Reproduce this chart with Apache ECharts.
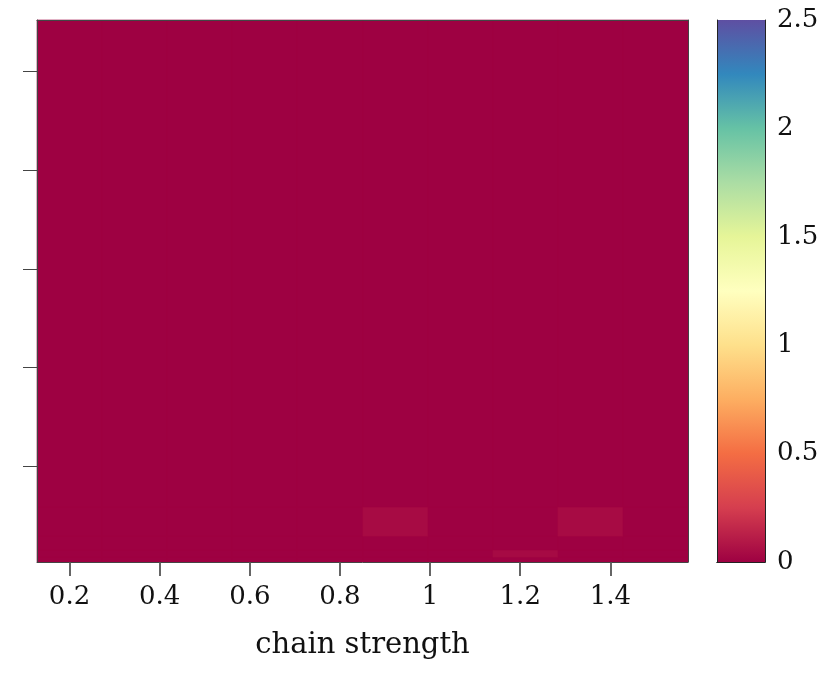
<!DOCTYPE html>
<html>
<head>
<meta charset="utf-8">
<script src="https://cdn.jsdelivr.net/npm/echarts@6/dist/echarts.min.js"></script>
<style>html,body{margin:0;padding:0;background:#fff;}#c{width:830px;height:674px;}</style>
</head>
<body>
<div id="c"></div>
<script>
// chain strength column centres
const chainStrength = [0.2, 0.344, 0.489, 0.633, 0.778, 0.922, 1.067, 1.211, 1.356, 1.5];
const colHalfWidth = 0.0722;
// row edges (unlabelled y axis)
const rowEdges = [0.03, 0.081, 0.152, 0.293, 0.587, 5.52];
// values[row][col]
const values = [
  [0, 0, 0, 0, 0, 0, 0, 0, 0, 0],
  [0, 0, 0, 0, 0, 0, 0, 0.035, 0, 0],
  [0, 0, 0, 0, 0, 0, 0, 0, 0, 0],
  [0, 0, 0, 0, 0, 0.04, 0, 0, 0.04, 0],
  [0, 0, 0, 0, 0, 0, 0, 0, 0, 0]
];
const xTicks = [0.2, 0.4, 0.6, 0.8, 1, 1.2, 1.4];
const yTicks = [1, 2, 3, 4, 5];
const cbTicks = [0, 0.5, 1, 1.5, 2, 2.5];
const spectral = ['#9e0142','#d53e4f','#f46d43','#fdae61','#fee08b','#ffffbf','#e6f598','#abdda4','#66c2a5','#3288bd','#5e4fa2'];

// column edges: midpoints between neighbouring centres
const n = chainStrength.length;
const colEdges = [chainStrength[0] - colHalfWidth];
for (let i = 0; i < n - 1; i++) colEdges.push((chainStrength[i] + chainStrength[i + 1]) / 2);
colEdges.push(chainStrength[n - 1] + colHalfWidth);

const cells = [];
values.forEach((row, r) => row.forEach((v, c) => {
  cells.push([colEdges[c], colEdges[c + 1], rowEdges[r], rowEdges[r + 1], v]);
}));

const font = 'DejaVu Serif';
const xMin = colEdges[0], xMax = colEdges[n];
const chart = echarts.init(document.getElementById('c'));
const plain = {axisTick: {show: false}, axisLabel: {show: false}, splitLine: {show: false}};
chart.setOption({
  animation: false,
  visualMap: {show: false, seriesIndex: 0, dimension: 4, min: 0, max: 2.5, inRange: {color: spectral}},
  grid: [
    {left: 37, top: 20, width: 651, height: 542},
    {left: 717, top: 20, width: 48, height: 542}
  ],
  xAxis: [
    {gridIndex: 0, type: 'value', min: xMin, max: xMax, z: 10,
     axisLine: {show: true, onZero: false, lineStyle: {color: '#444', width: 1}},
     axisTick: {show: false},
     axisLabel: {customValues: xTicks, fontFamily: font, fontSize: 26, color: '#111', margin: 22},
     splitLine: {show: false},
     name: 'chain strength', nameLocation: 'middle', nameGap: 69,
     nameTextStyle: {fontFamily: font, fontSize: 29, color: '#111'}},
    Object.assign({gridIndex: 0, type: 'value', position: 'top', min: xMin, max: xMax, z: 10,
     axisLine: {show: true, lineStyle: {color: '#444'}}}, plain),
    Object.assign({gridIndex: 1, type: 'value', min: 0, max: 1, z: 10,
     axisLine: {show: true, onZero: false, lineStyle: {color: '#222'}}}, plain),
    Object.assign({gridIndex: 1, type: 'value', position: 'top', min: 0, max: 1, z: 10,
     axisLine: {show: true, lineStyle: {color: '#222'}}}, plain),
    {gridIndex: 0, type: 'value', position: 'bottom', offset: 0, min: xMin, max: xMax, z: 11,
     axisLine: {show: false, onZero: false},
     axisTick: {show: true, customValues: xTicks, length: 14, lineStyle: {color: '#555', width: 1.8}},
     axisLabel: {show: false}, splitLine: {show: false}}
  ],
  yAxis: [
    {gridIndex: 0, type: 'value', min: 0.03, max: 5.52, z: 10,
     axisLine: {show: true, onZero: false, lineStyle: {color: '#444'}},
     axisTick: {show: true, customValues: yTicks, length: 14, lineStyle: {color: '#444'}},
     axisLabel: {show: false}, splitLine: {show: false}},
    Object.assign({gridIndex: 0, type: 'value', position: 'right', min: 0.03, max: 5.52, z: 10,
     axisLine: {show: true, onZero: false, lineStyle: {color: '#444'}}}, plain),
    {gridIndex: 1, type: 'value', min: 0, max: 2.5, position: 'right', z: 10,
     axisLine: {show: true, onZero: false, lineStyle: {color: '#222'}},
     axisTick: {show: false},
     axisLabel: {customValues: cbTicks, fontFamily: font, fontSize: 26, color: '#111', margin: 12},
     splitLine: {show: false}},
    Object.assign({gridIndex: 1, type: 'value', min: 0, max: 2.5, position: 'left', z: 10,
     axisLine: {show: true, onZero: false, lineStyle: {color: '#222'}}}, plain)
  ],
  series: [
    {type: 'custom', xAxisIndex: 0, yAxisIndex: 0, data: cells, encode: {x: [0, 1], y: [2, 3]},
     renderItem: function (params, api) {
       const p0 = api.coord([api.value(0), api.value(3)]);
       const p1 = api.coord([api.value(1), api.value(2)]);
       const x0 = Math.round(p0[0]), x1 = Math.round(p1[0]);
       const y0 = Math.round(p0[1]), y1 = Math.round(p1[1]);
       const col = api.visual('color');
       return {type: 'rect', shape: {x: x0, y: y0, width: x1 - x0, height: y1 - y0},
               style: {fill: col, stroke: col, lineWidth: 0.6}};
     }},
    {type: 'custom', xAxisIndex: 2, yAxisIndex: 2, data: [[0, 1, 0, 2.5]], encode: {x: [0, 1], y: [2, 3]},
     renderItem: function (params, api) {
       const p0 = api.coord([api.value(0), api.value(3)]);
       const p1 = api.coord([api.value(1), api.value(2)]);
       const stops = spectral.map((c, i) => ({offset: 1 - i / (spectral.length - 1), color: c})).reverse();
       return {type: 'rect', shape: {x: p0[0], y: p0[1], width: p1[0] - p0[0], height: p1[1] - p0[1]},
               style: {fill: new echarts.graphic.LinearGradient(0, 0, 0, 1, stops)}};
     }}
  ]
});
</script>
</body>
</html>
